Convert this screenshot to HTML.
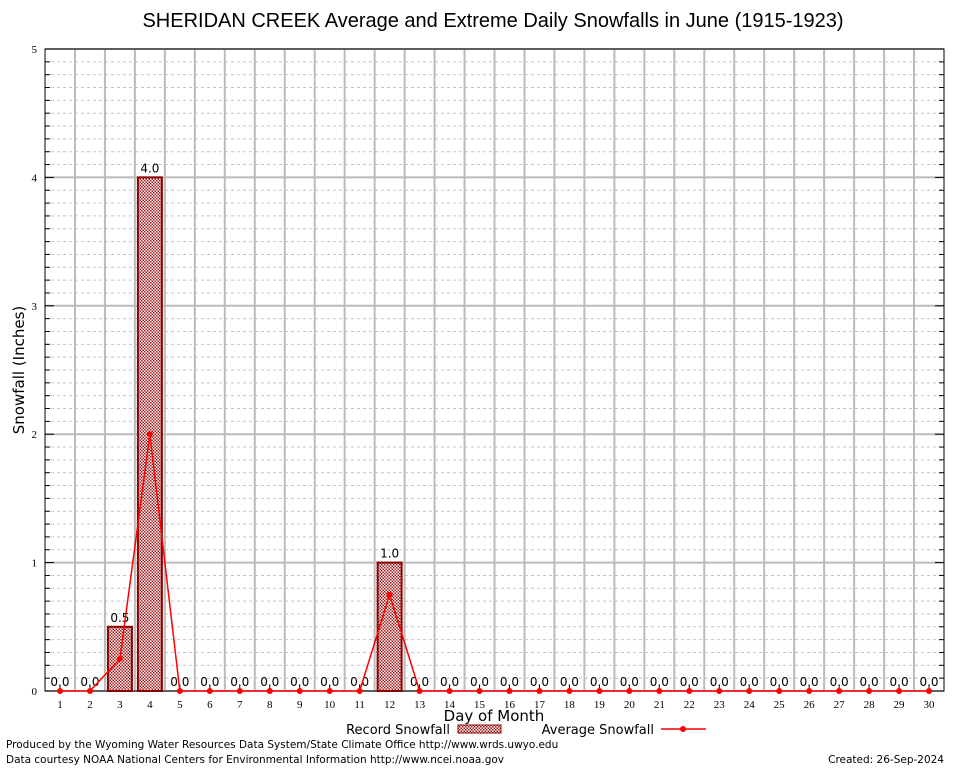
<!DOCTYPE html>
<html><head><meta charset="utf-8"><style>
body{margin:0;background:#fff;font-family:"DejaVu Sans",sans-serif}
</style></head><body>
<svg id="c" width="954" height="768" xmlns="http://www.w3.org/2000/svg" font-family="DejaVu Sans, sans-serif">
<defs><pattern id="chk" width="3" height="3" patternUnits="userSpaceOnUse"><rect width="3" height="3" fill="#fff"/><rect width="1.5" height="1.5" fill="#a01818"/><rect x="1.5" y="1.5" width="1.5" height="1.5" fill="#a01818"/></pattern></defs>
<text x="493" y="27" text-anchor="middle" font-size="20" font-family="Liberation Sans, sans-serif">SHERIDAN CREEK Average and Extreme Daily Snowfalls in June (1915-1923)</text>
<g id="grid"></g><g id="marks"></g>
<text transform="translate(24,370) rotate(-90)" text-anchor="middle" font-size="15">Snowfall (Inches)</text>
<text x="494" y="721" text-anchor="middle" font-size="15">Day of Month</text>
<g><text x="450" y="734" text-anchor="end" font-size="13">Record Snowfall</text><rect x="458" y="725" width="43" height="8" fill="url(#chk)" stroke="#8b0000"/></g>
<g><text x="654" y="734" text-anchor="end" font-size="13">Average Snowfall</text><line x1="661" y1="729" x2="706" y2="729" stroke="red" stroke-width="1.5"/><circle cx="683" cy="729" r="3" fill="red"/></g>
<text x="6" y="748" font-size="10.5">Produced by the Wyoming Water Resources Data System/State Climate Office http://www.wrds.uwyo.edu</text>
<text x="6" y="763" font-size="10.5">Data courtesy NOAA National Centers for Environmental Information http://www.ncei.noaa.gov</text>
<text x="944" y="763" text-anchor="end" font-size="10.5">Created: 26-Sep-2024</text>
</svg>
<script>
const days=[1,2,3,4,5,6,7,8,9,10,11,12,13,14,15,16,17,18,19,20,21,22,23,24,25,26,27,28,29,30];
const record=[0,0,0.5,4,0,0,0,0,0,0,0,1,0,0,0,0,0,0,0,0,0,0,0,0,0,0,0,0,0,0];
const average=[0,0,0.25,2,0,0,0,0,0,0,0,0.75,0,0,0,0,0,0,0,0,0,0,0,0,0,0,0,0,0,0];
const yTicks=[0,1,2,3,4,5];
const L=45,R=944,T=49,B=691,NS="http://www.w3.org/2000/svg";
const x=d=>L+(d-0.5)*(R-L)/30, y=v=>B-v*(B-T)/5;
const g=document.getElementById('grid'),m=document.getElementById('marks');
function el(p,t,a){const e=document.createElementNS(NS,t);for(const k in a)e.setAttribute(k,a[k]);p.appendChild(e);return e;}
for(let i=1;i<50;i++){if(i%10==0)continue;const v=i/10;
 const ln=el(g,'line',{x1:L,x2:R,y1:y(v),y2:y(v),stroke:'#c4c4c4','stroke-dasharray':'3,3'});
 
 el(g,'line',{x1:L,x2:L+5,y1:y(v),y2:y(v),stroke:'#000'});el(g,'line',{x1:R-5,x2:R,y1:y(v),y2:y(v),stroke:'#000'});}
for(let d=1;d<30;d++){const ln=el(g,'line',{x1:x(d+0.5),x2:x(d+0.5),y1:T,y2:B,stroke:'#bbb','stroke-width':2});
 }
yTicks.forEach(v=>{const ln=el(g,'line',{x1:L,x2:R,y1:y(v),y2:y(v),stroke:'#bbb','stroke-width':2});
 
 el(g,'line',{x1:L,x2:L+9,y1:y(v),y2:y(v),stroke:'#000'});el(g,'line',{x1:R-9,x2:R,y1:y(v),y2:y(v),stroke:'#000'});
 const t=el(g,'text',{x:L-8,y:y(v)+4,'text-anchor':'end','font-size':11,'font-family':'Liberation Serif, serif'});t.textContent=v;
 });
el(g,'rect',{x:L,y:T,width:R-L,height:B-T,fill:'none',stroke:'#000'});
days.forEach((d,i)=>{const t=el(g,'text',{x:x(d),y:708,'text-anchor':'middle','font-size':11,'font-family':'Liberation Serif, serif'});t.textContent=d;
 
 el(g,'line',{x1:x(d),x2:x(d),y1:B,y2:B-5,stroke:'#000'});
 if(record[i]>0){const b=el(m,'rect',{x:x(d)-12,y:y(record[i]),width:24,height:B-y(record[i]),fill:'url(#chk)',stroke:'#8b0000','stroke-width':2});
  }
 const lb=el(m,'text',{x:x(d),y:y(record[i])-5,'text-anchor':'middle','font-size':12});lb.textContent=record[i].toFixed(1);
 });
const pl=el(m,'polyline',{points:days.map((d,i)=>x(d)+','+y(average[i])).join(' '),fill:'none',stroke:'red','stroke-width':1.5});

days.forEach((d,i)=>{const c=el(m,'circle',{cx:x(d),cy:y(average[i]),r:3,fill:'red'});
 });
</script>
</body></html>
